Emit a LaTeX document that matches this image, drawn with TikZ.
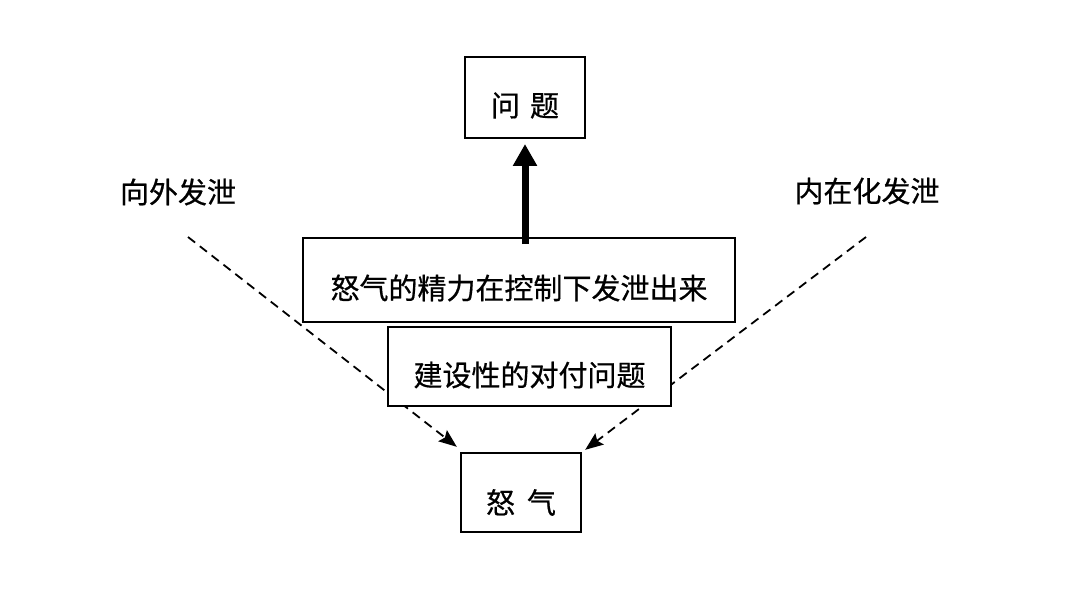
\documentclass[tikz,border=0pt]{standalone}
\usepackage{fontspec}
\setmainfont[FakeBold=0.6]{Noto Sans CJK SC}
\usetikzlibrary{arrows.meta,calc}
\begin{document}
\begin{tikzpicture}[x=1pt,y=-1pt,
  box/.style={draw=black,line width=2pt,fill=white,inner sep=0pt},
  txt/.style={inner sep=0pt,font=\fontsize{29}{35}\selectfont},
  dasharrow/.style={line width=1.8pt,dash pattern=on 9pt off 6pt,-{Stealth[length=18pt,width=14pt,inset=3pt]}},
  bigarrow/.style={line width=7pt,-{Triangle[length=22pt,width=23pt]}}]
\useasboundingbox[fill=white] (0,0) rectangle (1080,599);
% free ends of the dashed connectors
\coordinate (ls) at (188,237);
\coordinate (rs) at (866,237);
% target box position, named for the connectors
\path (521,492.5) node[minimum width=120pt,minimum height=79pt,inner sep=0pt] (angerpos) {};
\draw[dasharrow] (ls) -- ([shift={(-4,-6)}]angerpos.north west);
\draw[dasharrow] (rs) -- ([shift={(4,-3)}]angerpos.north east);
% boxes
\node[box,minimum width=120pt,minimum height=81pt] (prob) at (525,97.5) {};
\node[txt] at ([yshift=-8pt]prob.center) {问\hspace{10pt}题};
\node[box,minimum width=432pt,minimum height=84pt] (energy) at (519,280) {};
\node[txt] at ([yshift=-8pt]energy.center) {怒气的精力在控制下发泄出来};
\node[box,minimum width=283pt,minimum height=79pt] (constr) at (529.5,366) {};
\node[txt] at ([yshift=-9pt]constr.center) {建设性的对付问题};
\node[box,minimum width=120pt,minimum height=79pt] (anger) at (521,492.5) {};
\node[txt] at ([yshift=-10pt]anger.center) {怒\hspace{12pt}气};
% labels
\node[txt] (outl) at (178,192) {向外发泄};
\node[txt] (inl) at (867,191) {内在化发泄};
% thick arrow
\draw[bigarrow,shorten >=5pt] ([shift={(6,7)}]energy.north) -- (prob.south);
\end{tikzpicture}
\end{document}
